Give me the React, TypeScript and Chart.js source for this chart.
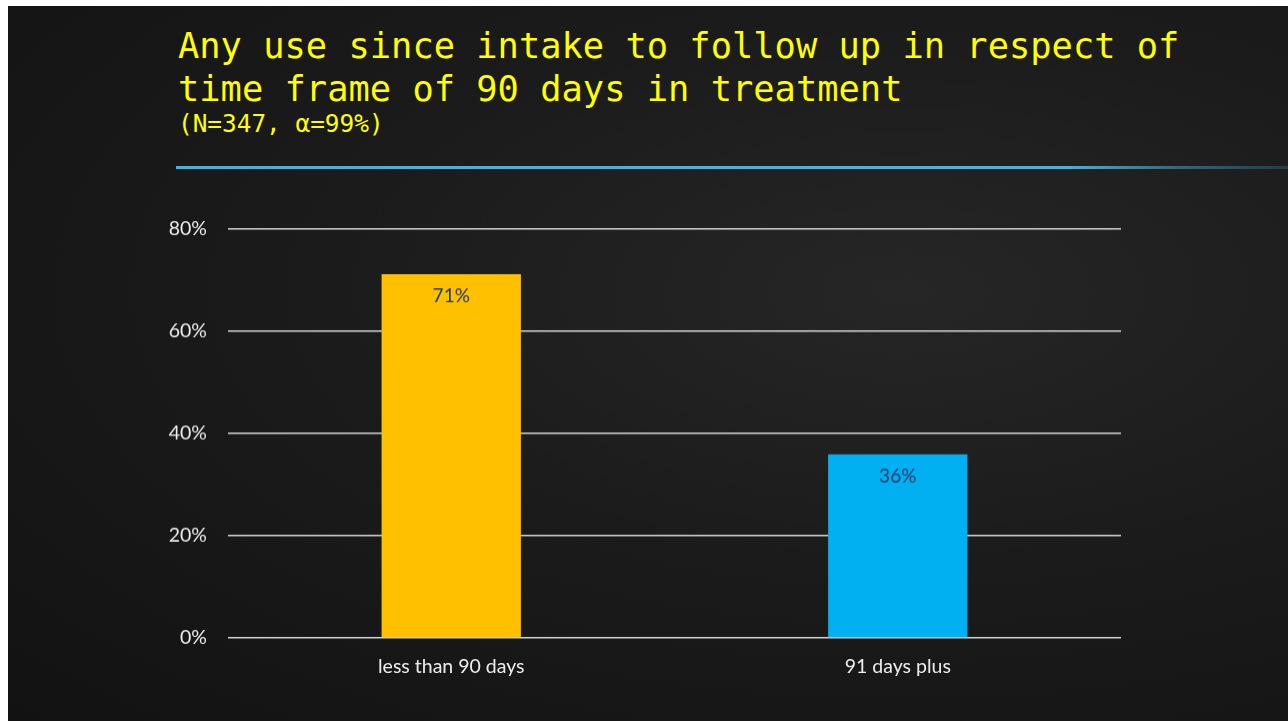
import React, { useEffect, useRef } from "react";
import { Chart, registerables } from "chart.js";

Chart.register(...registerables);

const categories = ["less than 90 days", "91 days plus"];
const values = [71.1, 35.9];
const valueLabels = ["71%", "36%"];
const barColors = ["#FFC000", "#00B0F0"];
const yTicks = [0, 20, 40, 60, 80];

const titleLine1 = "Any use since intake to follow up in respect of";
const titleLine2 = "time frame of 90 days in treatment";
const subtitle = "(N=347, α=99%)";

const labelPlugin = {
  id: "barLabels",
  afterDatasetsDraw(chart: any) {
    const ctx = chart.ctx;
    const meta = chart.getDatasetMeta(0);
    ctx.save();
    ctx.fillStyle = "#1F3A68";
    ctx.font = "19px Lato, 'Open Sans', sans-serif";
    ctx.textAlign = "center";
    ctx.textBaseline = "middle";
    meta.data.forEach((bar: any, i: number) => {
      ctx.fillText(valueLabels[i], bar.x, bar.y + 22);
    });
    ctx.restore();
  },
};

export default function App() {
  const ref = useRef<HTMLCanvasElement | null>(null);
  useEffect(() => {
    if (!ref.current) return;
    const chart = new Chart(ref.current, {
      type: "bar",
      data: {
        labels: categories,
        datasets: [
          {
            data: values,
            backgroundColor: barColors,
            borderWidth: 0,
            categoryPercentage: 0.312,
            barPercentage: 1,
          },
        ],
      },
      options: {
        animation: false,
        responsive: false,
        maintainAspectRatio: false,
        layout: { padding: { top: 12, right: 9, left: 0, bottom: 0 } },
        plugins: {
          legend: { display: false },
          tooltip: { enabled: false },
        },
        scales: {
          x: {
            grid: { display: false, drawTicks: false },
            border: { display: false },
            ticks: {
              color: "#EDEDED",
              font: { family: "Lato, 'Open Sans', sans-serif", size: 19.5 },
              padding: 17,
            },
            afterFit(scale: any) {
              scale.height = 48;
            },
          },
          y: {
            min: 0,
            max: 80,
            afterBuildTicks(scale: any) {
              scale.ticks = yTicks.map((v) => ({ value: v }));
            },
            grid: {
              color: "rgba(235,235,235,0.9)",
              lineWidth: 1.5,
              drawTicks: false,
            },
            border: { display: false },
            ticks: {
              color: "#EDEDED",
              font: { family: "Lato, 'Open Sans', sans-serif", size: 19.5 },
              padding: 21,
              callback: (v: any) => v + "%",
            },
            afterFit(scale: any) {
              scale.width = 78;
            },
          },
        },
      },
      plugins: [labelPlugin],
    });
    return () => chart.destroy();
  }, []);

  return (
    <div
      style={{
        position: "absolute",
        left: 8,
        top: 6,
        width: 1280,
        height: 715,
        overflow: "hidden",
        background:
          "radial-gradient(ellipse at 70% 40%, #262626 0%, #1b1b1b 45%, #121212 100%)",
      }}
    >
      <div
        style={{
          position: "absolute",
          left: 170,
          top: 18,
          fontFamily: "'DejaVu Sans Mono', 'Liberation Mono', monospace",
          color: "#FFFF00",
          whiteSpace: "pre",
        }}
      >
        <div style={{ fontSize: 35.4, lineHeight: "43px" }}>{titleLine1}</div>
        <div style={{ fontSize: 35.4, lineHeight: "43px" }}>{titleLine2}</div>
        <div style={{ fontSize: 24.4, lineHeight: "27px" }}>{subtitle}</div>
      </div>
      <div
        style={{
          position: "absolute",
          left: 168,
          top: 160,
          width: 1112,
          height: 3,
          background:
            "linear-gradient(to right, #3DB4E6 0%, #3DB4E6 80%, rgba(61,180,230,0.5) 90%, rgba(61,180,230,0.2) 100%)",
        }}
      />
      <canvas
        ref={ref}
        width={980}
        height={489}
        style={{ position: "absolute", left: 142, top: 190, width: 980, height: 490 }}
      />
    </div>
  );
}
